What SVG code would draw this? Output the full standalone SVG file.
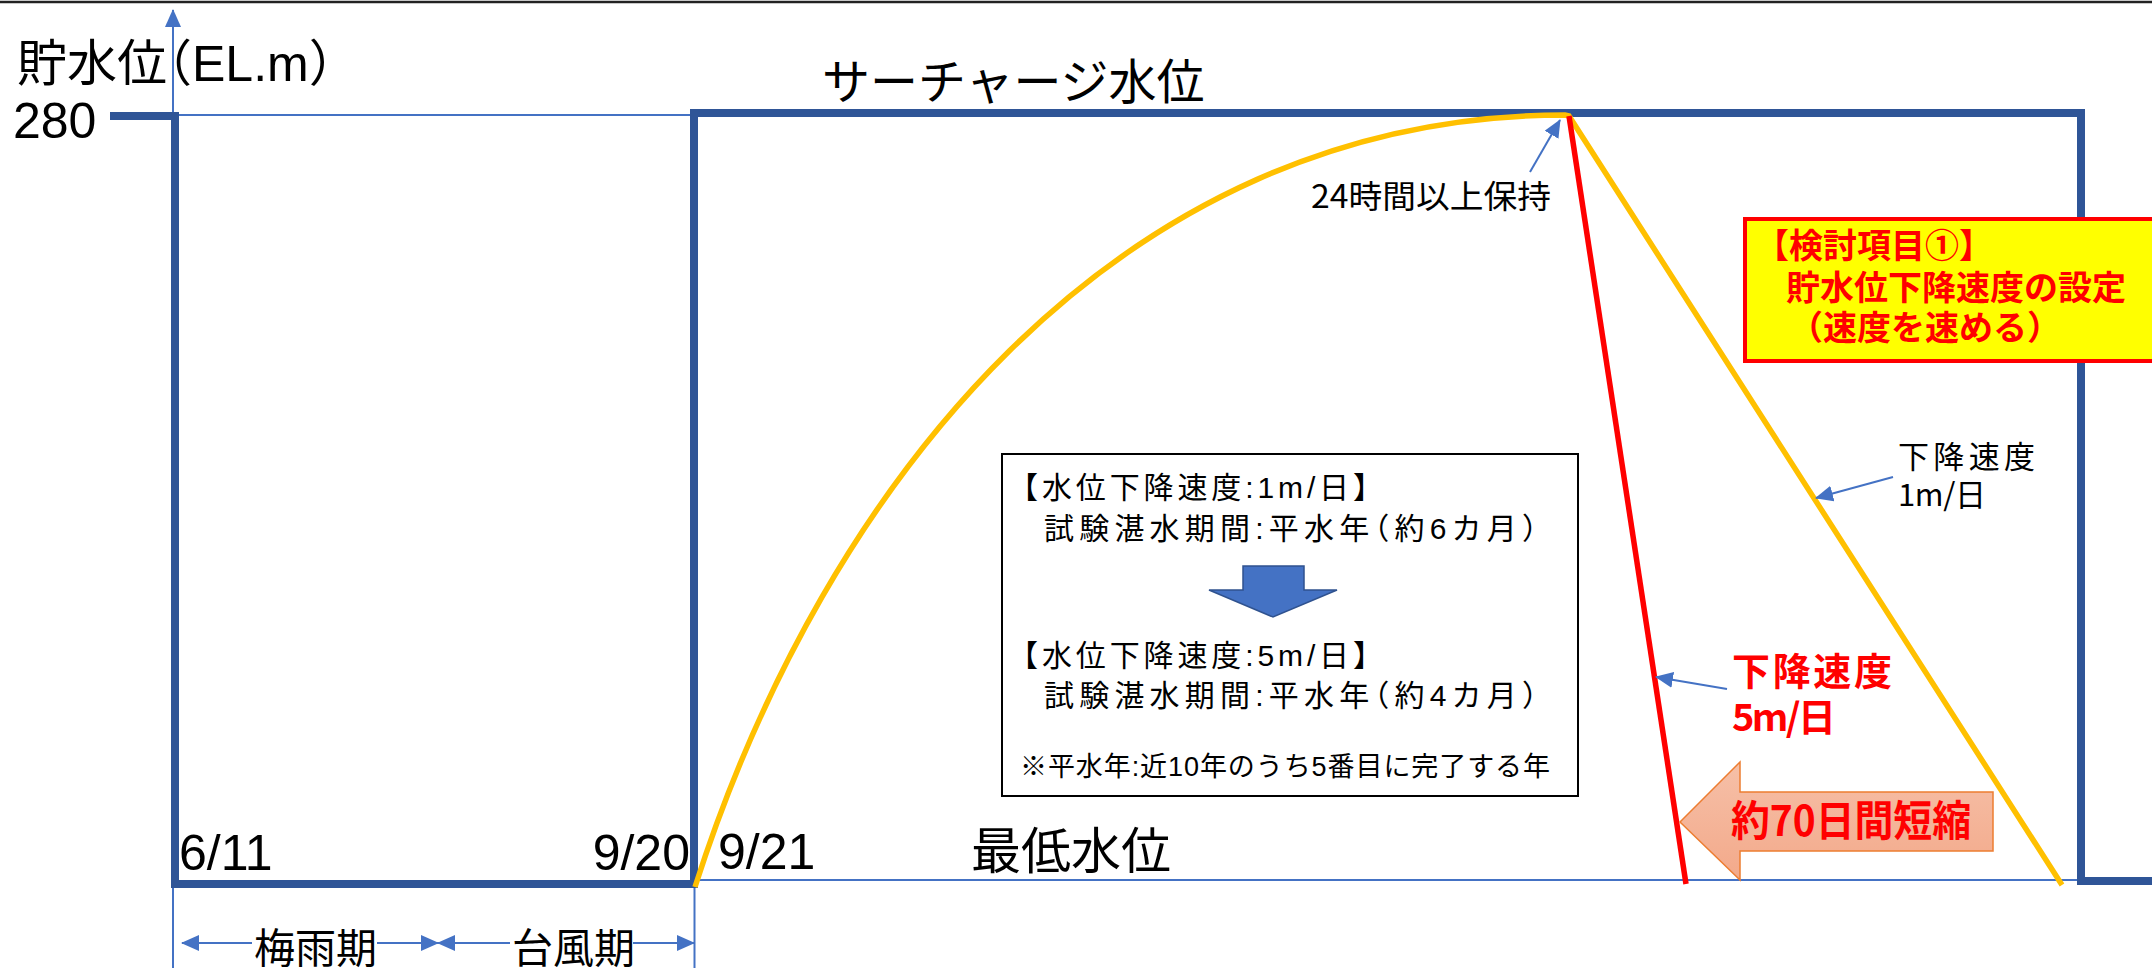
<svg xmlns="http://www.w3.org/2000/svg" width="2152" height="968" viewBox="0 0 2152 968">
<defs>
<style>
.jp{font-family:"Liberation Sans","Noto Sans CJK JP",sans-serif;fill:#000}
.nj{font-family:"Noto Sans CJK JP","Liberation Sans",sans-serif;fill:#000}
.red{font-family:"Noto Sans CJK JP","Liberation Sans",sans-serif;fill:#FF0000;font-weight:bold}
.halt{font-feature-settings:"halt"}
.thin{stroke:#4472C4;stroke-width:2;fill:none}
.arr{stroke:#4472C4;stroke-width:2;fill:none;marker-end:url(#ah)}
</style>
<marker id="ah" markerUnits="userSpaceOnUse" markerWidth="18" markerHeight="16" refX="17" refY="8" orient="auto">
<path d="M0,0 L18,8 L0,16 z" fill="#4472C4"/>
</marker>
<linearGradient id="sal" x1="0" y1="0" x2="0" y2="1">
<stop offset="0" stop-color="#F6C0A8"/>
<stop offset="1" stop-color="#F3A98A"/>
</linearGradient>
</defs>
<rect width="2152" height="968" fill="#fff"/>
<line x1="0" y1="2" x2="2152" y2="2" stroke="#222" stroke-width="2.5"/>

<g id="axes">
<line class="thin" x1="173" y1="968" x2="173" y2="10" marker-end="url(#ah)"/>
<line class="thin" x1="175" y1="115" x2="2081" y2="115"/>
<line class="thin" x1="694" y1="880" x2="2081" y2="880"/>
<line class="thin" x1="694.5" y1="884" x2="694.5" y2="968"/>
</g>

<g id="water-level-frame">
<path d="M110,116 H175 V884 H694 V113 H2081 V881 H2152" fill="none" stroke="#2F5597" stroke-width="8"/>
</g>

<g id="curves">
<path d="M695,887 C823,487 1115,115 1565,115 L1569,116 L2062,885" fill="none" stroke="#FFC000" stroke-width="5.5"/>
<line x1="1569" y1="116" x2="1686" y2="884" stroke="#FF0000" stroke-width="5.5"/>
</g>

<g id="labels-axis">
<text class="jp halt" x="17" y="81" font-size="50">貯水位（EL.m）</text>
<text class="jp" x="13" y="138" font-size="50">280</text>
<text class="jp" x="822" y="99" font-size="48">サーチャージ水位</text>
<text class="jp" x="179" y="870" font-size="50">6/11</text>
<text class="jp" x="690" y="870" font-size="50" text-anchor="end">9/20</text>
<text class="jp" x="718" y="869" font-size="50">9/21</text>
<text class="jp" x="971" y="869" font-size="50">最低水位</text>
</g>

<g id="period-rainy">
<text class="jp" x="254" y="963" font-size="41">梅雨期</text>
</g>
<g id="period-typhoon">
<text class="jp" x="512" y="963" font-size="41">台風期</text>
</g>

<g id="label-24h">
<text class="nj" x="1311" y="208" font-size="32" textLength="240" lengthAdjust="spacingAndGlyphs">24時間以上保持</text>
</g>

<g id="review-item">
<rect x="1745" y="219" width="420" height="142" fill="#FFFF00" stroke="#FF0000" stroke-width="4"/>
<text class="red" font-size="34"><tspan x="1755" y="258">【検討項目①】</tspan><tspan x="1786" y="300">貯水位下降速度の設定</tspan><tspan x="1789" y="340">（速度を速める）</tspan></text>
</g>

<g id="info-box">
<rect x="1002" y="454" width="576" height="342" fill="#fff" stroke="#000" stroke-width="2"/>
<text class="jp" x="1008" y="498" font-size="30" textLength="375">【水位下降速度:1m/日】</text>
<text class="jp halt" x="1044" y="539" font-size="30" textLength="493">試験湛水期間:平水年（約6カ月）</text>
<path d="M1243,566 H1304 V590 H1337 L1273,617 L1209,590 H1243 Z" fill="#4472C4" stroke="#2F528F" stroke-width="1.5"/>
<text class="jp" x="1008" y="666" font-size="30" textLength="375">【水位下降速度:5m/日】</text>
<text class="jp halt" x="1044" y="706" font-size="30" textLength="493">試験湛水期間:平水年（約4カ月）</text>
<text class="jp" x="1020" y="776" font-size="27" textLength="530">※平水年:近10年のうち5番目に完了する年</text>
</g>

<g id="label-1m">
<text class="nj" x="1898" y="468" font-size="31" textLength="137">下降速度</text>
<text class="nj" x="1898" y="506" font-size="31" textLength="88">1m/日</text>
</g>

<g id="label-5m">
<text class="red" x="1732" y="685" font-size="38" textLength="160">下降速度</text>
<text class="red" x="1732" y="731" font-size="38" textLength="104">5m/日</text>
</g>

<g id="shortening">
<path d="M1680,822 L1740,762 V792 H1993 V851 H1740 V880 Z" fill="url(#sal)" stroke="#ED7D31" stroke-width="1.5"/>
<text class="red" x="1731" y="836" font-size="42" textLength="240" lengthAdjust="spacingAndGlyphs">約70日間短縮</text>
</g>

<g id="connectors">
<line class="arr" x1="1530" y1="172" x2="1560" y2="120"/>
<line class="arr" x1="1893" y1="477" x2="1816" y2="498"/>
<line class="arr" x1="1727" y1="689" x2="1656" y2="677"/>
<line class="arr" x1="252" y1="943" x2="182" y2="943"/>
<line class="arr" x1="377" y1="943" x2="438" y2="943"/>
<line class="arr" x1="510" y1="943" x2="438" y2="943"/>
<line class="arr" x1="633" y1="943" x2="694" y2="943"/>
</g>
</svg>
